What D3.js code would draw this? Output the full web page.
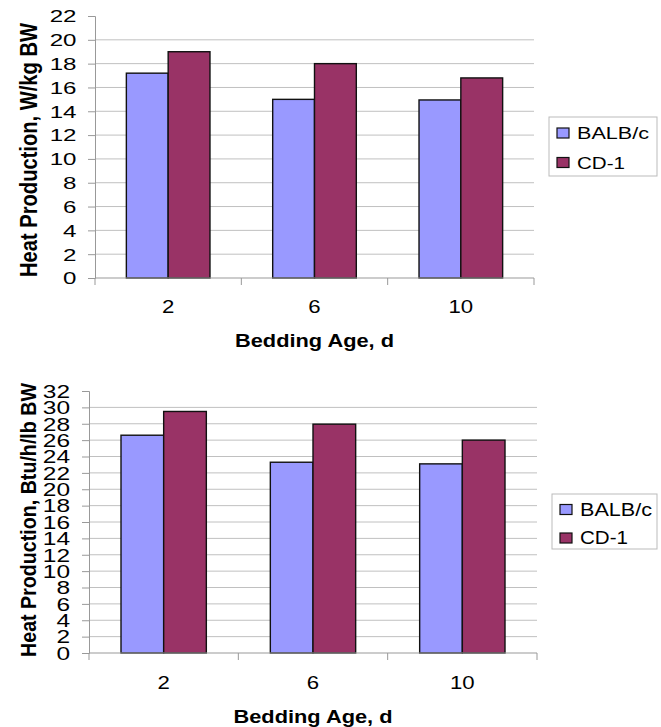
<!DOCTYPE html>
<html>
<head>
<meta charset="utf-8">
<script src="https://cdn.jsdelivr.net/npm/d3@7"></script>
<style>
  body { margin: 0; background: #fff; }
  text { font-family: Arial, "Liberation Sans", sans-serif; fill: #000; }
</style>
</head>
<body>
<div id="chart"></div>
<script>
// Datos
const beddingAge = ["2", "6", "10"];
const seriesNames = ["BALB/c", "CD-1"];
const balbWkg = [17.2, 15.0, 14.95];
const cd1Wkg = [19.0, 18.0, 16.8];
const balbBtu = [26.6, 23.3, 23.1];
const cd1Btu = [29.5, 27.95, 26.0];
const ticksWkg = [0, 2, 4, 6, 8, 10, 12, 14, 16, 18, 20, 22];
const ticksBtu = [0, 2, 4, 6, 8, 10, 12, 14, 16, 18, 20, 22, 24, 26, 28, 30, 32];

const colors = ["#9999ff", "#993366"];

const svg = d3.select("#chart").append("svg")
    .attr("width", 661)
    .attr("height", 727);

function drawChart(cfg) {
    const g = svg.append("g");

    const x = d3.scaleBand()
        .domain(beddingAge)
        .range([cfg.left, cfg.right]);

    const x1 = d3.scaleBand()
        .domain(seriesNames)
        .range([0, x.bandwidth()])
        .paddingInner(0)
        .paddingOuter(0.75);

    const y = d3.scaleLinear()
        .domain([0, d3.max(cfg.ticks)])
        .range([cfg.bottom, cfg.top]);

    // Lineas de cuadricula (sin la del maximo)
    g.selectAll(".grid")
        .data(cfg.ticks.filter(t => t > 0 && t < d3.max(cfg.ticks)))
        .enter()
        .append("line")
        .attr("x1", cfg.left)
        .attr("x2", cfg.right)
        .attr("y1", d => y(d))
        .attr("y2", d => y(d))
        .attr("stroke", "#c0c0c0")
        .attr("stroke-width", 1);

    // Barras
    const rows = beddingAge.map((c, i) => ({ cat: c, vals: [cfg.a[i], cfg.b[i]] }));
    const groups = g.selectAll(".grp")
        .data(rows)
        .enter()
        .append("g")
        .attr("transform", d => `translate(${x(d.cat)},0)`);

    groups.selectAll("rect")
        .data(d => d.vals.map((v, j) => ({ name: seriesNames[j], v: v, j: j })))
        .enter()
        .append("rect")
        .attr("x", d => x1(d.name))
        .attr("width", x1.bandwidth())
        .attr("y", d => y(d.v))
        .attr("height", d => y(0) - y(d.v))
        .attr("fill", d => colors[d.j])
        .attr("stroke", "#111")
        .attr("stroke-width", 1.4);

    // Eje Y
    const yAxis = g.append("g")
        .attr("transform", `translate(${cfg.left},0)`)
        .call(d3.axisLeft(y).tickValues(cfg.ticks).tickSize(7).tickPadding(0));
    yAxis.select(".domain").attr("stroke", "#999");
    yAxis.selectAll(".tick line").attr("stroke", "#999");
    yAxis.selectAll(".tick text")
        .attr("font-size", cfg.tickFont + "px")
        .attr("font-family", "Arial, 'Liberation Sans', sans-serif")
        .attr("x", -cfg.tickOff / cfg.tickSx)
        .attr("dy", "0.36em")
        .attr("transform", `scale(${cfg.tickSx},1)`);

    // Eje X
    const xAxisG = g.append("g");
    xAxisG.append("line")
        .attr("x1", cfg.left).attr("x2", cfg.right)
        .attr("y1", cfg.bottom).attr("y2", cfg.bottom)
        .attr("stroke", "#999");
    const bounds = [cfg.left].concat(beddingAge.map(c => x(c) + x.bandwidth()));
    xAxisG.selectAll(".xtick")
        .data(bounds)
        .enter()
        .append("line")
        .attr("x1", d => d).attr("x2", d => d)
        .attr("y1", cfg.bottom).attr("y2", cfg.bottom + 7)
        .attr("stroke", "#999");
    xAxisG.selectAll(".xlabel")
        .data(beddingAge)
        .enter()
        .append("text")
        .attr("transform", d => `translate(${x(d) + x.bandwidth() / 2},${cfg.bottom + cfg.xLabelDy}) scale(1.2,1)`)
        .attr("text-anchor", "middle")
        .attr("font-size", "18.5px")
        .text(d => d);

    // Titulos
    g.append("text")
        .attr("x", (cfg.left + cfg.right) / 2 - 79.5)
        .attr("y", cfg.bottom + cfg.xTitleDy)
        .attr("font-size", "18.7px")
        .attr("font-weight", "bold")
        .attr("textLength", 159)
        .attr("lengthAdjust", "spacingAndGlyphs")
        .text("Bedding Age, d");

    g.append("text")
        .attr("transform", `translate(${cfg.yTitleX},${cfg.yTitleY}) scale(1.15,1) rotate(-90)`)
        .attr("x", -cfg.yTitleLen / 2)
        .attr("font-size", cfg.yTitleFont + "px")
        .attr("font-weight", "bold")
        .attr("textLength", cfg.yTitleLen)
        .attr("lengthAdjust", "spacingAndGlyphs")
        .text(cfg.yTitle);

    // Leyenda
    const lg = g.append("g")
        .attr("transform", `translate(${cfg.legX},${cfg.legY})`);
    lg.append("rect")
        .attr("width", cfg.legW)
        .attr("height", cfg.legH)
        .attr("fill", "#fff")
        .attr("stroke", "#bbb");
    const items = lg.selectAll(".item")
        .data(seriesNames)
        .enter()
        .append("g")
        .attr("transform", (d, i) => `translate(0,${cfg.legRow0 + i * cfg.legRowStep})`);
    items.append("rect")
        .attr("x", 8).attr("y", -11)
        .attr("width", 12).attr("height", 10)
        .attr("fill", (d, i) => colors[i])
        .attr("stroke", "#111")
        .attr("stroke-width", 1.2);
    items.append("text")
        .attr("x", 28)
        .attr("font-size", cfg.legFont + "px")
        .attr("textLength", (d, i) => cfg.legLens[i])
        .attr("lengthAdjust", "spacingAndGlyphs")
        .text(d => d);
}

drawChart({
    a: balbWkg, b: cd1Wkg, ticks: ticksWkg,
    left: 95, right: 534, top: 16, bottom: 278,
    tickFont: 16.3, tickSx: 1.48, tickOff: 18.5,
    xLabelDy: 35, xTitleDy: 69,
    yTitle: "Heat Production, W/kg BW", yTitleX: 37, yTitleY: 150, yTitleFont: 20, yTitleLen: 254,
    legX: 549, legY: 117, legW: 108, legH: 59,
    legRow0: 22, legRowStep: 29.5, legFont: 17, legLens: [72, 48]
});

drawChart({
    a: balbBtu, b: cd1Btu, ticks: ticksBtu,
    left: 89, right: 537, top: 391, bottom: 653,
    tickFont: 17.5, tickSx: 1.4, tickOff: 19,
    xLabelDy: 35.5, xTitleDy: 70,
    yTitle: "Heat Production, Btu/h/lb BW", yTitleX: 36, yTitleY: 520, yTitleFont: 19.7, yTitleLen: 274,
    legX: 552, legY: 494, legW: 105, legH: 55,
    legRow0: 21.5, legRowStep: 28.5, legFont: 17.5, legLens: [72, 48]
});
</script>
</body>
</html>
